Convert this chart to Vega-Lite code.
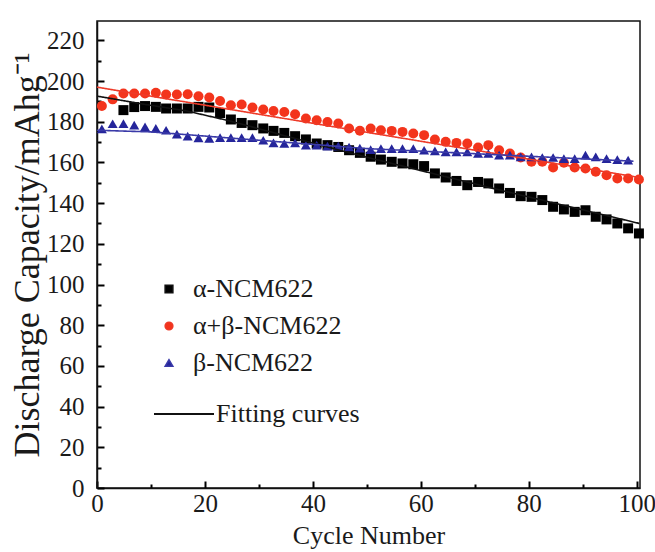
{
  "$schema": "https://vega.github.io/schema/vega-lite/v6.json",
  "width": 543,
  "height": 467,
  "autosize": "none",
  "padding": {"left": 97, "top": 21, "right": 15, "bottom": 64},
  "background": "white",
  "config": {
    "view": {"stroke": "#111111", "strokeWidth": 1.5},
    "font": "Liberation Serif"
  },
  "datasets": {
    "points": [
      {"cycle": 4.9, "capacity": 185.7, "series": "α-NCM622"},
      {"cycle": 6.9, "capacity": 187.2, "series": "α-NCM622"},
      {"cycle": 8.9, "capacity": 187.7, "series": "α-NCM622"},
      {"cycle": 10.9, "capacity": 187.3, "series": "α-NCM622"},
      {"cycle": 12.8, "capacity": 186.5, "series": "α-NCM622"},
      {"cycle": 14.8, "capacity": 186.5, "series": "α-NCM622"},
      {"cycle": 16.8, "capacity": 186.5, "series": "α-NCM622"},
      {"cycle": 18.8, "capacity": 187.3, "series": "α-NCM622"},
      {"cycle": 20.8, "capacity": 187.0, "series": "α-NCM622"},
      {"cycle": 22.8, "capacity": 184.3, "series": "α-NCM622"},
      {"cycle": 24.8, "capacity": 181.1, "series": "α-NCM622"},
      {"cycle": 26.8, "capacity": 179.4, "series": "α-NCM622"},
      {"cycle": 28.8, "capacity": 178.3, "series": "α-NCM622"},
      {"cycle": 30.8, "capacity": 176.7, "series": "α-NCM622"},
      {"cycle": 32.7, "capacity": 175.5, "series": "α-NCM622"},
      {"cycle": 34.7, "capacity": 174.5, "series": "α-NCM622"},
      {"cycle": 36.7, "capacity": 172.9, "series": "α-NCM622"},
      {"cycle": 38.7, "capacity": 171.3, "series": "α-NCM622"},
      {"cycle": 40.7, "capacity": 169.3, "series": "α-NCM622"},
      {"cycle": 42.7, "capacity": 168.5, "series": "α-NCM622"},
      {"cycle": 44.7, "capacity": 167.6, "series": "α-NCM622"},
      {"cycle": 46.7, "capacity": 166.0, "series": "α-NCM622"},
      {"cycle": 48.7, "capacity": 164.7, "series": "α-NCM622"},
      {"cycle": 50.7, "capacity": 162.8, "series": "α-NCM622"},
      {"cycle": 52.6, "capacity": 161.4, "series": "α-NCM622"},
      {"cycle": 54.6, "capacity": 160.3, "series": "α-NCM622"},
      {"cycle": 56.6, "capacity": 159.5, "series": "α-NCM622"},
      {"cycle": 58.6, "capacity": 159.1, "series": "α-NCM622"},
      {"cycle": 60.6, "capacity": 158.2, "series": "α-NCM622"},
      {"cycle": 62.6, "capacity": 154.6, "series": "α-NCM622"},
      {"cycle": 64.6, "capacity": 152.6, "series": "α-NCM622"},
      {"cycle": 66.6, "capacity": 150.9, "series": "α-NCM622"},
      {"cycle": 68.6, "capacity": 148.8, "series": "α-NCM622"},
      {"cycle": 70.6, "capacity": 150.4, "series": "α-NCM622"},
      {"cycle": 72.5, "capacity": 149.7, "series": "α-NCM622"},
      {"cycle": 74.5, "capacity": 147.2, "series": "α-NCM622"},
      {"cycle": 76.5, "capacity": 145.0, "series": "α-NCM622"},
      {"cycle": 78.5, "capacity": 143.4, "series": "α-NCM622"},
      {"cycle": 80.5, "capacity": 143.1, "series": "α-NCM622"},
      {"cycle": 82.5, "capacity": 141.5, "series": "α-NCM622"},
      {"cycle": 84.5, "capacity": 138.2, "series": "α-NCM622"},
      {"cycle": 86.5, "capacity": 136.9, "series": "α-NCM622"},
      {"cycle": 88.5, "capacity": 135.7, "series": "α-NCM622"},
      {"cycle": 90.5, "capacity": 136.5, "series": "α-NCM622"},
      {"cycle": 92.4, "capacity": 133.3, "series": "α-NCM622"},
      {"cycle": 94.4, "capacity": 132.0, "series": "α-NCM622"},
      {"cycle": 96.4, "capacity": 130.0, "series": "α-NCM622"},
      {"cycle": 98.4, "capacity": 127.6, "series": "α-NCM622"},
      {"cycle": 100.4, "capacity": 125.1, "series": "α-NCM622"},

      {"cycle": 0.9, "capacity": 187.7, "series": "α+β-NCM622"},
      {"cycle": 2.9, "capacity": 191.0, "series": "α+β-NCM622"},
      {"cycle": 4.9, "capacity": 193.9, "series": "α+β-NCM622"},
      {"cycle": 6.9, "capacity": 193.9, "series": "α+β-NCM622"},
      {"cycle": 8.9, "capacity": 193.9, "series": "α+β-NCM622"},
      {"cycle": 10.9, "capacity": 194.2, "series": "α+β-NCM622"},
      {"cycle": 12.8, "capacity": 193.4, "series": "α+β-NCM622"},
      {"cycle": 14.8, "capacity": 193.4, "series": "α+β-NCM622"},
      {"cycle": 16.8, "capacity": 193.5, "series": "α+β-NCM622"},
      {"cycle": 18.8, "capacity": 192.5, "series": "α+β-NCM622"},
      {"cycle": 20.8, "capacity": 191.9, "series": "α+β-NCM622"},
      {"cycle": 22.8, "capacity": 190.2, "series": "α+β-NCM622"},
      {"cycle": 24.8, "capacity": 188.1, "series": "α+β-NCM622"},
      {"cycle": 26.8, "capacity": 188.5, "series": "α+β-NCM622"},
      {"cycle": 28.8, "capacity": 187.0, "series": "α+β-NCM622"},
      {"cycle": 30.8, "capacity": 186.0, "series": "α+β-NCM622"},
      {"cycle": 32.7, "capacity": 185.3, "series": "α+β-NCM622"},
      {"cycle": 34.7, "capacity": 184.8, "series": "α+β-NCM622"},
      {"cycle": 36.7, "capacity": 183.7, "series": "α+β-NCM622"},
      {"cycle": 38.7, "capacity": 181.6, "series": "α+β-NCM622"},
      {"cycle": 40.7, "capacity": 180.7, "series": "α+β-NCM622"},
      {"cycle": 42.7, "capacity": 179.9, "series": "α+β-NCM622"},
      {"cycle": 44.7, "capacity": 179.1, "series": "α+β-NCM622"},
      {"cycle": 46.7, "capacity": 176.7, "series": "α+β-NCM622"},
      {"cycle": 48.7, "capacity": 175.6, "series": "α+β-NCM622"},
      {"cycle": 50.7, "capacity": 176.7, "series": "α+β-NCM622"},
      {"cycle": 52.6, "capacity": 175.8, "series": "α+β-NCM622"},
      {"cycle": 54.6, "capacity": 175.5, "series": "α+β-NCM622"},
      {"cycle": 56.6, "capacity": 175.0, "series": "α+β-NCM622"},
      {"cycle": 58.6, "capacity": 174.2, "series": "α+β-NCM622"},
      {"cycle": 60.6, "capacity": 173.4, "series": "α+β-NCM622"},
      {"cycle": 62.6, "capacity": 171.3, "series": "α+β-NCM622"},
      {"cycle": 64.6, "capacity": 170.1, "series": "α+β-NCM622"},
      {"cycle": 66.6, "capacity": 169.6, "series": "α+β-NCM622"},
      {"cycle": 68.6, "capacity": 169.3, "series": "α+β-NCM622"},
      {"cycle": 70.6, "capacity": 167.3, "series": "α+β-NCM622"},
      {"cycle": 72.5, "capacity": 168.5, "series": "α+β-NCM622"},
      {"cycle": 74.5, "capacity": 166.0, "series": "α+β-NCM622"},
      {"cycle": 76.5, "capacity": 164.4, "series": "α+β-NCM622"},
      {"cycle": 78.5, "capacity": 162.4, "series": "α+β-NCM622"},
      {"cycle": 80.5, "capacity": 160.3, "series": "α+β-NCM622"},
      {"cycle": 82.5, "capacity": 160.3, "series": "α+β-NCM622"},
      {"cycle": 84.5, "capacity": 157.5, "series": "α+β-NCM622"},
      {"cycle": 86.5, "capacity": 159.8, "series": "α+β-NCM622"},
      {"cycle": 88.5, "capacity": 157.5, "series": "α+β-NCM622"},
      {"cycle": 90.5, "capacity": 157.0, "series": "α+β-NCM622"},
      {"cycle": 92.4, "capacity": 155.4, "series": "α+β-NCM622"},
      {"cycle": 94.4, "capacity": 153.7, "series": "α+β-NCM622"},
      {"cycle": 96.4, "capacity": 152.1, "series": "α+β-NCM622"},
      {"cycle": 98.4, "capacity": 152.1, "series": "α+β-NCM622"},
      {"cycle": 100.4, "capacity": 151.6, "series": "α+β-NCM622"},

      {"cycle": 0.9, "capacity": 176.5, "series": "β-NCM622"},
      {"cycle": 2.9, "capacity": 179.0, "series": "β-NCM622"},
      {"cycle": 4.9, "capacity": 179.1, "series": "β-NCM622"},
      {"cycle": 6.9, "capacity": 178.3, "series": "β-NCM622"},
      {"cycle": 8.9, "capacity": 177.5, "series": "β-NCM622"},
      {"cycle": 10.9, "capacity": 176.7, "series": "β-NCM622"},
      {"cycle": 12.8, "capacity": 175.8, "series": "β-NCM622"},
      {"cycle": 14.8, "capacity": 173.9, "series": "β-NCM622"},
      {"cycle": 16.8, "capacity": 172.9, "series": "β-NCM622"},
      {"cycle": 18.8, "capacity": 172.1, "series": "β-NCM622"},
      {"cycle": 20.8, "capacity": 171.8, "series": "β-NCM622"},
      {"cycle": 22.8, "capacity": 172.2, "series": "β-NCM622"},
      {"cycle": 24.8, "capacity": 172.2, "series": "β-NCM622"},
      {"cycle": 26.8, "capacity": 172.2, "series": "β-NCM622"},
      {"cycle": 28.8, "capacity": 172.2, "series": "β-NCM622"},
      {"cycle": 30.8, "capacity": 170.9, "series": "β-NCM622"},
      {"cycle": 32.7, "capacity": 169.6, "series": "β-NCM622"},
      {"cycle": 34.7, "capacity": 169.3, "series": "β-NCM622"},
      {"cycle": 36.7, "capacity": 169.6, "series": "β-NCM622"},
      {"cycle": 38.7, "capacity": 168.5, "series": "β-NCM622"},
      {"cycle": 40.7, "capacity": 168.5, "series": "β-NCM622"},
      {"cycle": 42.7, "capacity": 168.0, "series": "β-NCM622"},
      {"cycle": 44.7, "capacity": 168.0, "series": "β-NCM622"},
      {"cycle": 46.7, "capacity": 167.6, "series": "β-NCM622"},
      {"cycle": 48.7, "capacity": 167.0, "series": "β-NCM622"},
      {"cycle": 50.7, "capacity": 166.3, "series": "β-NCM622"},
      {"cycle": 52.6, "capacity": 166.8, "series": "β-NCM622"},
      {"cycle": 54.6, "capacity": 166.8, "series": "β-NCM622"},
      {"cycle": 56.6, "capacity": 166.8, "series": "β-NCM622"},
      {"cycle": 58.6, "capacity": 166.8, "series": "β-NCM622"},
      {"cycle": 60.6, "capacity": 166.0, "series": "β-NCM622"},
      {"cycle": 62.6, "capacity": 165.7, "series": "β-NCM622"},
      {"cycle": 64.6, "capacity": 165.2, "series": "β-NCM622"},
      {"cycle": 66.6, "capacity": 165.2, "series": "β-NCM622"},
      {"cycle": 68.6, "capacity": 165.2, "series": "β-NCM622"},
      {"cycle": 70.6, "capacity": 164.4, "series": "β-NCM622"},
      {"cycle": 72.5, "capacity": 164.4, "series": "β-NCM622"},
      {"cycle": 74.5, "capacity": 163.6, "series": "β-NCM622"},
      {"cycle": 76.5, "capacity": 163.6, "series": "β-NCM622"},
      {"cycle": 78.5, "capacity": 162.7, "series": "β-NCM622"},
      {"cycle": 80.5, "capacity": 162.7, "series": "β-NCM622"},
      {"cycle": 82.5, "capacity": 162.4, "series": "β-NCM622"},
      {"cycle": 84.5, "capacity": 162.4, "series": "β-NCM622"},
      {"cycle": 86.5, "capacity": 161.9, "series": "β-NCM622"},
      {"cycle": 88.5, "capacity": 161.9, "series": "β-NCM622"},
      {"cycle": 90.5, "capacity": 163.6, "series": "β-NCM622"},
      {"cycle": 92.4, "capacity": 162.7, "series": "β-NCM622"},
      {"cycle": 94.4, "capacity": 161.9, "series": "β-NCM622"},
      {"cycle": 96.4, "capacity": 161.4, "series": "β-NCM622"},
      {"cycle": 98.4, "capacity": 161.1, "series": "β-NCM622"}
    ],
    "fits": [
      {"cycle": 0, "capacity": 192.6, "series": "α-NCM622", "kind": "Fitting curves"},
      {"cycle": 8.7, "capacity": 188.6, "series": "α-NCM622", "kind": "Fitting curves"},
      {"cycle": 16.6, "capacity": 185.3, "series": "α-NCM622", "kind": "Fitting curves"},
      {"cycle": 24.6, "capacity": 180.4, "series": "α-NCM622", "kind": "Fitting curves"},
      {"cycle": 35.8, "capacity": 172.4, "series": "α-NCM622", "kind": "Fitting curves"},
      {"cycle": 50.2, "capacity": 162.4, "series": "α-NCM622", "kind": "Fitting curves"},
      {"cycle": 75, "capacity": 146.2, "series": "α-NCM622", "kind": "Fitting curves"},
      {"cycle": 100.5, "capacity": 130.0, "series": "α-NCM622", "kind": "Fitting curves"},
      {"cycle": 0, "capacity": 197.0, "series": "α+β-NCM622", "kind": "Fitting curves"},
      {"cycle": 50, "capacity": 174.8, "series": "α+β-NCM622", "kind": "Fitting curves"},
      {"cycle": 100.5, "capacity": 152.6, "series": "α+β-NCM622", "kind": "Fitting curves"},
      {"cycle": 0, "capacity": 175.8, "series": "β-NCM622", "kind": "Fitting curves"},
      {"cycle": 10, "capacity": 175.0, "series": "β-NCM622", "kind": "Fitting curves"},
      {"cycle": 50, "capacity": 166.8, "series": "β-NCM622", "kind": "Fitting curves"},
      {"cycle": 99.4, "capacity": 160.6, "series": "β-NCM622", "kind": "Fitting curves"}
    ]
  },
  "encoding": {
    "x": {
      "field": "cycle",
      "type": "quantitative",
      "scale": {"domain": [0, 100.6], "nice": false, "zero": false},
      "axis": {
        "title": "Cycle Number",
        "values": [0, 10, 20, 30, 40, 50, 60, 70, 80, 90, 100],
        "labelExpr": "datum.value % 20 === 0 ? datum.label : ''",
        "tickSize": {"condition": {"test": "datum.value % 20 === 0", "value": -7}, "value": -4},
        "tickColor": "#000000",
        "tickWidth": 2,
        "domainColor": "#111111",
        "domainWidth": 1.5,
        "grid": false,
        "labelFont": "Liberation Serif",
        "labelFontSize": 25,
        "labelColor": "#1a1a1a",
        "labelPadding": 10,
        "labelFlush": false,
        "labelOverlap": false,
        "titleFont": "Liberation Serif",
        "titleFontSize": 26,
        "titleFontWeight": "normal",
        "titleColor": "#1a1a1a",
        "titlePadding": 3
      }
    },
    "y": {
      "field": "capacity",
      "type": "quantitative",
      "scale": {"domain": [0, 229.5], "nice": false, "zero": false},
      "axis": {
        "title": "Discharge Capacity/mAhg⁻¹",
        "values": [0, 10, 20, 30, 40, 50, 60, 70, 80, 90, 100, 110, 120, 130, 140, 150, 160, 170, 180, 190, 200, 210, 220],
        "labelExpr": "datum.value % 20 === 0 ? datum.label : ''",
        "tickSize": {"condition": {"test": "datum.value % 20 === 0", "value": -7}, "value": -4},
        "tickColor": "#000000",
        "tickWidth": 2,
        "domainColor": "#111111",
        "domainWidth": 1.5,
        "grid": false,
        "labelFont": "Liberation Serif",
        "labelFontSize": 25,
        "labelColor": "#1a1a1a",
        "labelPadding": 20,
        "labelFlush": false,
        "labelOverlap": false,
        "titleFont": "Liberation Serif",
        "titleFontSize": 36,
        "titleFontWeight": "normal",
        "titleColor": "#1a1a1a",
        "titlePadding": 0
      }
    }
  },
  "layer": [
    {
      "data": {"name": "points"},
      "mark": {"type": "point", "filled": true, "size": 100, "opacity": 1},
      "encoding": {
        "color": {
          "field": "series",
          "type": "nominal",
          "scale": {"domain": ["α-NCM622", "α+β-NCM622", "β-NCM622"], "range": ["#000000", "#f3341c", "#25259b"]},
          "legend": {
            "title": null,
            "orient": "none",
            "legendX": 59,
            "legendY": 255,
            "symbolSize": 60,
            "labelOffset": 11,
            "rowPadding": 11,
            "labelFont": "Liberation Serif",
            "labelFontSize": 26,
            "labelColor": "#1a1a1a",
            "padding": 0
          }
        },
        "shape": {
          "field": "series",
          "type": "nominal",
          "scale": {"domain": ["α-NCM622", "α+β-NCM622", "β-NCM622"], "range": ["square", "circle", "triangle-up"]}
        }
      }
    },
    {
      "data": {"name": "fits"},
      "mark": {"type": "line", "strokeWidth": 1.6},
      "encoding": {
        "stroke": {
          "field": "series",
          "type": "nominal",
          "scale": {"domain": ["α-NCM622", "α+β-NCM622", "β-NCM622"], "range": ["#111111", "#ee3a28", "#3a3aa8"]},
          "legend": null
        },
        "strokeDash": {
          "field": "kind",
          "type": "nominal",
          "scale": {"domain": ["Fitting curves"], "range": [[1, 0]]},
          "legend": {
            "title": null,
            "orient": "none",
            "legendX": 56,
            "legendY": 362,
            "symbolType": "stroke",
            "symbolSize": 3600,
            "symbolStrokeColor": "#111111",
            "symbolStrokeWidth": 2,
            "labelOffset": 1,
            "labelFont": "Liberation Serif",
            "labelFontSize": 26,
            "labelColor": "#1a1a1a",
            "padding": 0
          }
        }
      }
    }
  ]
}
